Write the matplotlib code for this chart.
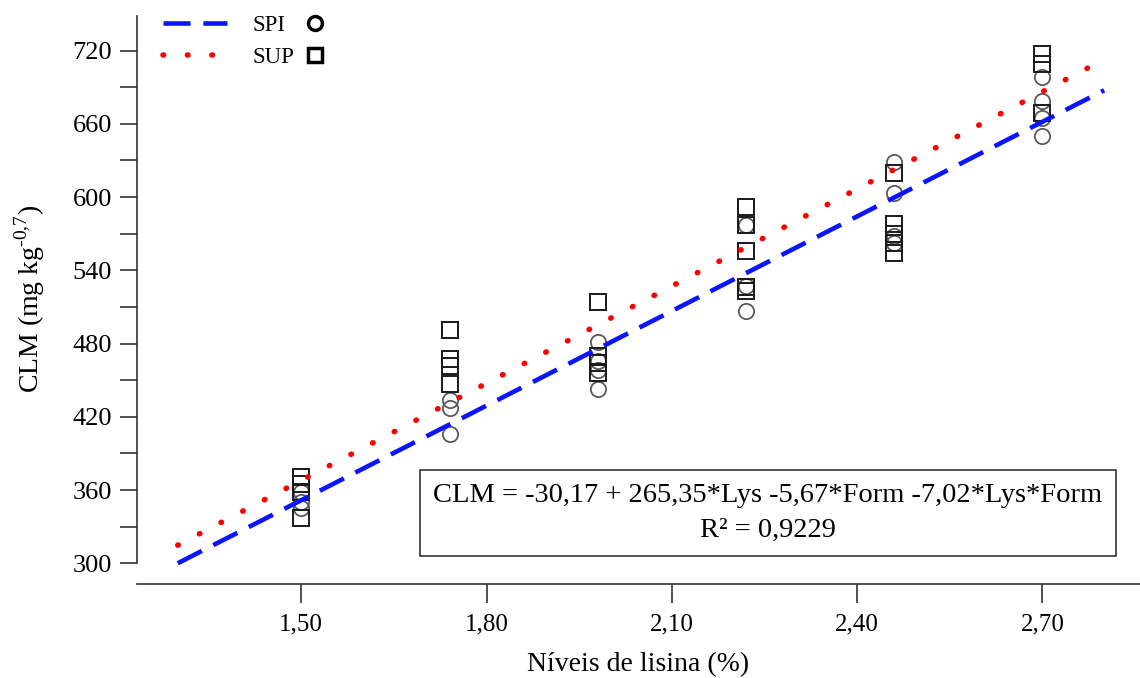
import matplotlib
matplotlib.use("Agg")
import matplotlib.pyplot as plt
from matplotlib.lines import Line2D

plt.rcParams["font.family"] = ["Liberation Serif", "DejaVu Serif"]
plt.rcParams["mathtext.fontset"] = "custom"
plt.rcParams["mathtext.rm"] = "Liberation Serif"

# dados
lys_levels = [1.50, 1.74, 1.98, 2.22, 2.46, 2.70]
spi_obs = [
    [358, 350, 345],
    [434, 427, 406],
    [481, 466, 458, 443],
    [577, 527, 507],
    [629, 603, 568, 562],
    [698, 679, 665, 650],
]
sup_obs = [
    [371, 365, 358, 337],
    [491, 467, 462, 447],
    [514, 470, 464, 456],
    [592, 577, 556, 526, 523],
    [620, 578, 570, 562, 554],
    [717, 709, 669],
]

# retas ajustadas (extremos)
fit_x = [1.30, 2.80]
spi_fit = [300.0, 687.5]
sup_fit = [314.8, 712.8]

xticks = [1.50, 1.80, 2.10, 2.40, 2.70]
xtick_labels = ["1,50", "1,80", "2,10", "2,40", "2,70"]
yticks = [300, 360, 420, 480, 540, 600, 660, 720]
yminor = [330, 390, 450, 510, 570, 630, 690]

equation = "CLM = -30,17 + 265,35*Lys -5,67*Form -7,02*Lys*Form\nR² = 0,9229"

fig = plt.figure(figsize=(11.4, 6.78), dpi=100)
ax = fig.add_axes([137 / 1140, 94 / 678, 1003 / 1140, 570 / 678])

# pontos
for x, vals in zip(lys_levels, spi_obs):
    ax.plot([x] * len(vals), vals, linestyle="none", marker="o", markersize=11,
            markerfacecolor="none", markeredgecolor="#5a5a5a", markeredgewidth=1.3, zorder=2)
for x, vals in zip(lys_levels, sup_obs):
    ax.plot([x] * len(vals), vals, linestyle="none", marker="s", markersize=11,
            markerfacecolor="none", markeredgecolor="#1a1a1a", markeredgewidth=1.4, zorder=2)

# retas
l_spi, = ax.plot(fit_x, spi_fit, color="#0a14ff", lw=3.3, linestyle=(0, (5.9, 2.8)), zorder=3)
l_sup, = ax.plot(fit_x, sup_fit, color="#ff0000", lw=4.0, linestyle=(0, (0.1, 4.3)),
                 dash_capstyle="round", zorder=3)

ax.set_xlim(1.234, 2.858)
ax.set_ylim(283, 750)

ax.spines["top"].set_visible(False)
ax.spines["right"].set_visible(False)
ax.spines["left"].set_bounds(300, 748)
for s in ["left", "bottom"]:
    ax.spines[s].set_linewidth(1.2)
    ax.spines[s].set_color("#333333")

ax.set_xticks(xticks)
ax.set_xticklabels(xtick_labels)
ax.set_yticks(yticks)
ax.set_yticks(yminor, minor=True)
ax.tick_params(axis="y", which="both", direction="out", length=12, width=1.2,
               color="#333333", labelsize=19, pad=6)
ax.tick_params(axis="x", which="both", direction="out", length=14, width=1.2,
               color="#333333", labelsize=18, pad=7)

ax.set_xlabel("Níveis de lisina (%)", fontsize=20, labelpad=12)
ax.set_ylabel(r"CLM (mg kg$^{\mathregular{\text{-}0{,}7}}$)", fontsize=20, labelpad=18)

# legenda
leg1 = ax.legend([l_spi, l_sup], ["SPI", "SUP"], loc="upper left",
                 bbox_to_anchor=(0.026, 0.998), frameon=False, fontsize=16.5,
                 handlelength=2.8, handletextpad=1.1, labelspacing=0.45,
                 borderpad=0, borderaxespad=0)
ax.add_artist(leg1)
m_circ = Line2D([], [], linestyle="none", marker="o", markersize=10,
                markerfacecolor="none", markeredgecolor="black", markeredgewidth=2.5)
m_sq = Line2D([], [], linestyle="none", marker="s", markersize=10,
              markerfacecolor="none", markeredgecolor="black", markeredgewidth=2.5)
ax.legend([m_circ, m_sq], ["", ""], loc="upper left",
          bbox_to_anchor=(0.1665, 0.998), frameon=False, fontsize=16.5,
          handlelength=1.0, handletextpad=0, labelspacing=0.45,
          borderpad=0, borderaxespad=0)

# equacao
ax.text(0.629, 0.1246, equation, transform=ax.transAxes, ha="center", va="center",
        multialignment="center", fontsize=20.5, linespacing=1.5,
        bbox=dict(boxstyle="square,pad=0.47", facecolor="white", edgecolor="#333333", linewidth=1.2),
        zorder=5)

fig.savefig("out.png", dpi=100)
